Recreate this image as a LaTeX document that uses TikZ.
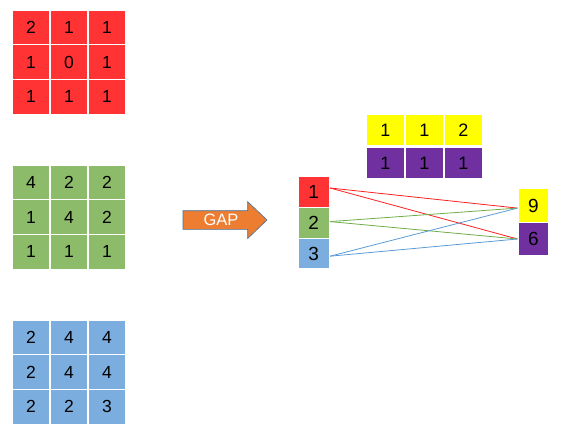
\documentclass[tikz,border=0pt]{standalone}
\usepackage{fontspec}
\setmainfont{Liberation Sans}
\usetikzlibrary{calc}
\definecolor{cred}{HTML}{FF3333}
\definecolor{cgreen}{HTML}{8CBC69}
\definecolor{cblue}{HTML}{7BAEDE}
\definecolor{cyellow}{HTML}{FFFF00}
\definecolor{cpurple}{HTML}{7030A0}
\definecolor{corange}{HTML}{ED7D31}
\definecolor{coutline}{HTML}{41719C}
\definecolor{lred}{HTML}{FF2020}
\definecolor{lgreen}{HTML}{70AD47}
\definecolor{lblue}{HTML}{5B9BD5}
\tikzset{
  gcell/.style={draw=white, line width=1.1pt, minimum width=38pt, minimum height=34.7pt, inner sep=0pt, font=\fontsize{17.5}{17.5}\selectfont, text=black},
  ycell/.style={draw=white, line width=1.1pt, minimum width=39pt, minimum height=31.5pt, inner sep=0pt, font=\fontsize{18}{18}\selectfont, text=black},
  colbox/.style={draw=white, line width=1.1pt, minimum width=31.5pt, minimum height=30.7pt, inner sep=0pt, font=\fontsize{19}{19}\selectfont, text=black},
  outbox/.style={draw=white, line width=1.1pt, minimum width=31pt, minimum height=33.3pt, inner sep=0pt, font=\fontsize{19}{19}\selectfont, text=black},
  link/.style={line width=0.8pt}
}
\begin{document}
\begin{tikzpicture}[x=1pt,y=-1pt]
\useasboundingbox (0,0) rectangle (587,444);
% grids
\foreach \name/\col/\oy/\vals in {r/cred/10/{2,1,1,1,0,1,1,1,1}, g/cgreen/165/{4,2,2,1,4,2,1,1,1}, b/cblue/320/{2,4,4,2,4,4,2,2,3}}{
  \foreach \v [count=\i from 0] in \vals {
    \pgfmathtruncatemacro{\r}{div(\i,3)}
    \pgfmathtruncatemacro{\c}{mod(\i,3)}
    \node[gcell, fill=\col] (\name\r\c) at ({12+19+38*\c},{\oy+17.35+34.7*\r}) {\v};
  }
}
% arrow
\draw[fill=corange, draw=coutline, line width=0.6pt] (183,210.7) -- (247.7,210.7) -- (247.7,201.7) -- (267,220) -- (247.7,238.5) -- (247.7,229.3) -- (183,229.3) -- cycle;
\node[text=white, font=\fontsize{16.5}{16.5}\selectfont, inner sep=0pt] (gap) at (221,220) {GAP};
% yellow / purple rows
\foreach \v [count=\i from 0] in {1,1,2}{
  \node[ycell, fill=cyellow] (y\i) at ({366+19.5+39*\i},130) {\v};
}
\foreach \v [count=\i from 0] in {1,1,1}{
  \node[ycell, fill=cpurple] (p\i) at ({366+19.5+39*\i},163.2) {\v};
}
% column boxes
\node[colbox, fill=cred] (c1) at (313.7,192.2) {1};
\node[colbox, fill=cgreen] (c2) at (313.7,222.9) {2};
\node[colbox, fill=cblue] (c3) at (313.7,253.6) {3};
% output boxes
\node[outbox, fill=cyellow] (o9) at (533.5,205.5) {9};
\node[outbox, fill=cpurple] (o6) at (533.5,239) {6};
% links
\coordinate (s1) at ($(c1.east)+(0,-4.2)$);
\coordinate (s2) at ($(c2.east)+(0,-1.3)$);
\coordinate (s3) at ($(c3.east)+(0,2.6)$);
\coordinate (e9) at ($(o9.west)+(0,2.6)$);
\coordinate (e6) at ($(o6.west)+(0,0)$);
\draw[link, lred] (s1) -- (e9);
\draw[link, lred] (s1) -- (e6);
\draw[link, lgreen] (s2) -- (e9);
\draw[link, lgreen] (s2) -- (e6);
\draw[link, lblue] (s3) -- (e9);
\draw[link, lblue] (s3) -- (e6);
\end{tikzpicture}
\end{document}
